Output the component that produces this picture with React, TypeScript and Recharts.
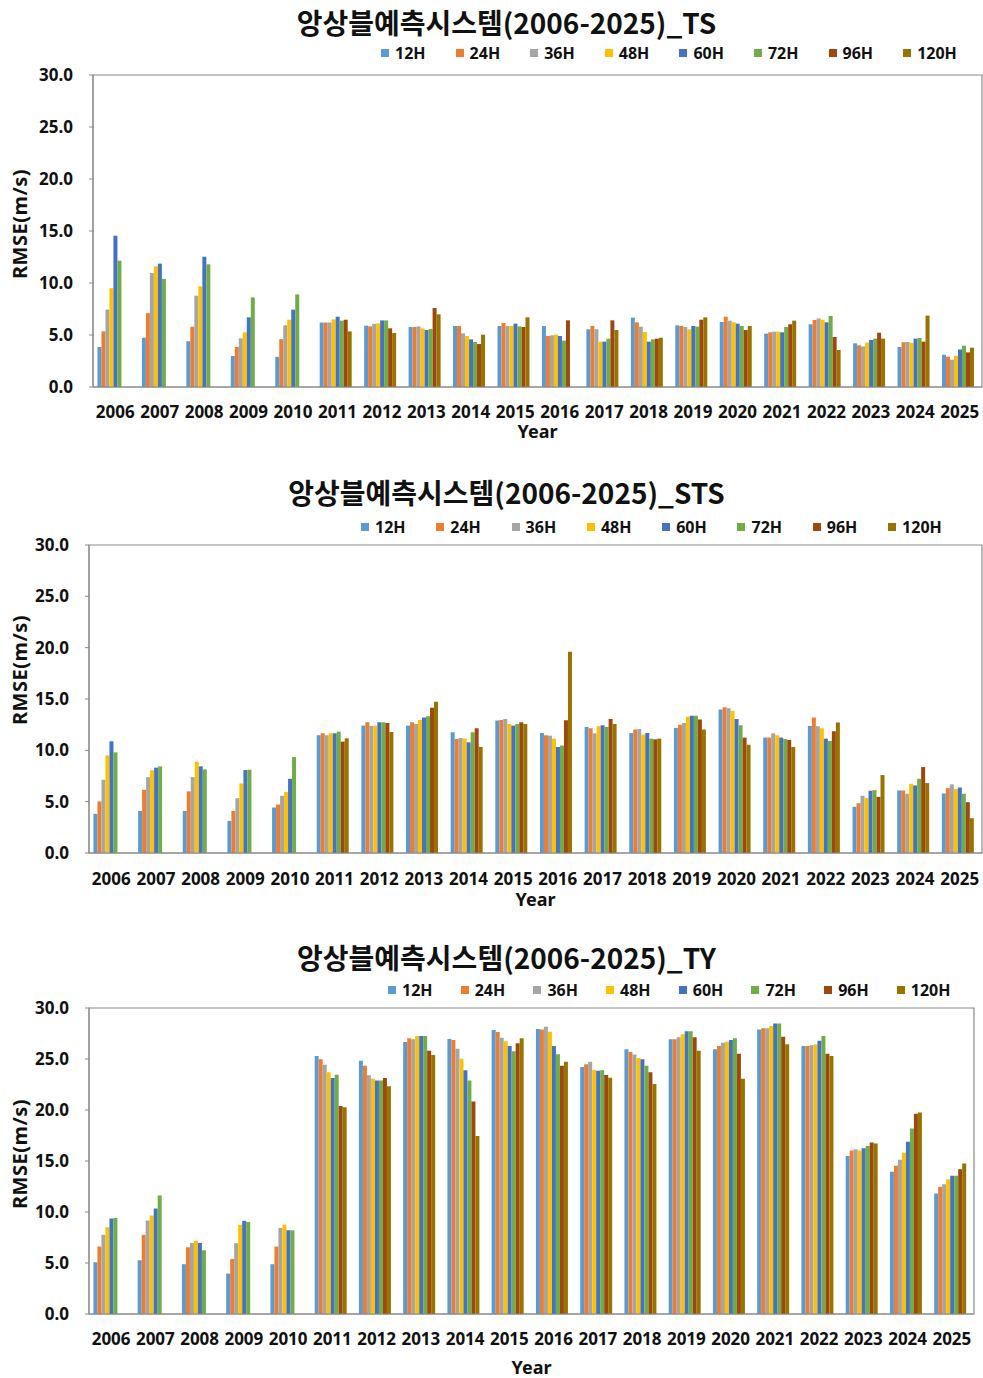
import { BarChart, Bar, XAxis, YAxis, Legend, ReferenceArea } from "recharts";

const N = null;

const years = [
  "2006", "2007", "2008", "2009", "2010", "2011", "2012", "2013", "2014", "2015",
  "2016", "2017", "2018", "2019", "2020", "2021", "2022", "2023", "2024", "2025",
];
const horizons = ["12H", "24H", "36H", "48H", "60H", "72H", "96H", "120H"];
const colors = ["#5B9BD5", "#ED7D31", "#A5A5A5", "#FFC000", "#4472C4", "#70AD47", "#9E480E", "#997300"];
const yTicks = [0, 5, 10, 15, 20, 25, 30];

// TS
const ts12 = [3.85, 4.74, 4.4, 2.98, 2.9, 6.2, 5.9, 5.77, 5.87, 5.87, 5.87, 5.55, 6.67, 5.93, 6.25, 5.13, 6.03, 4.2, 3.85, 3.1];
const ts24 = [5.35, 7.1, 5.8, 3.85, 4.6, 6.2, 5.83, 5.77, 5.87, 6.15, 4.9, 5.87, 6.22, 5.87, 6.76, 5.26, 6.44, 4.0, 4.3, 2.92];
const ts36 = [7.44, 10.96, 8.78, 4.68, 5.93, 6.2, 6.06, 5.83, 5.16, 5.87, 4.97, 5.55, 5.8, 5.77, 6.38, 5.32, 6.6, 3.9, 4.33, 2.63];
const ts48 = [9.5, 11.6, 9.68, 5.26, 6.47, 6.5, 6.12, 5.64, 4.9, 5.87, 5.03, 4.36, 5.29, 5.55, 6.22, 5.32, 6.47, 4.26, 4.26, 3.0];
const ts60 = [14.55, 11.86, 12.53, 6.7, 7.44, 6.76, 6.4, 5.48, 4.58, 6.09, 4.9, 4.36, 4.36, 5.87, 6.09, 5.26, 6.22, 4.52, 4.65, 3.61];
const ts72 = [12.15, 10.4, 11.8, 8.62, 8.9, 6.38, 6.4, 5.58, 4.33, 5.83, 4.46, 4.65, 4.58, 5.8, 5.87, 5.77, 6.83, 4.65, 4.71, 3.97];
const ts96 = [N, N, N, N, N, 6.47, 5.64, 7.6, 4.13, 5.77, 6.41, 6.41, 4.65, 6.47, 5.48, 6.03, 4.81, 5.22, 4.36, 3.33];
const ts120 = [N, N, N, N, N, 5.35, 5.19, 6.99, 5.03, 6.7, N, 5.48, 4.74, 6.7, 5.87, 6.38, 3.56, 4.65, 6.86, 3.78];

// STS
const sts12 = [3.81, 4.1, 4.1, 3.13, 4.43, 11.47, 12.41, 12.41, 11.76, 12.9, 11.69, 12.28, 11.69, 12.18, 13.97, 11.24, 12.38, 4.5, 6.09, 5.8];
const sts24 = [5.02, 6.16, 6.0, 4.1, 4.72, 11.66, 12.74, 12.74, 11.1, 12.96, 11.47, 12.15, 12.02, 12.48, 14.2, 11.24, 13.19, 4.85, 6.09, 6.32];
const sts36 = [7.13, 7.39, 7.39, 5.34, 5.57, 11.47, 12.38, 12.57, 11.2, 13.06, 11.43, 11.66, 12.08, 12.67, 14.1, 11.66, 12.35, 5.57, 5.77, 6.68];
const sts48 = [9.51, 8.05, 8.89, 6.78, 5.93, 11.66, 12.41, 12.96, 11.14, 12.57, 11.14, 12.35, 11.53, 13.26, 13.84, 11.47, 12.15, 5.37, 6.74, 6.22];
const sts60 = [10.88, 8.31, 8.44, 8.08, 7.23, 11.66, 12.74, 13.19, 10.78, 12.41, 10.33, 12.44, 11.69, 13.36, 13.06, 11.24, 11.14, 6.06, 6.58, 6.38];
const sts72 = [9.8, 8.44, 8.14, 8.11, 9.35, 11.82, 12.74, 13.32, 11.76, 12.57, 10.46, 12.28, 11.14, 13.36, 12.44, 11.1, 10.91, 6.12, 7.23, 5.77];
const sts96 = [N, N, N, N, N, 10.85, 12.67, 14.14, 12.15, 12.74, 12.93, 13.06, 11.07, 13.0, 11.24, 11.01, 11.86, 5.47, 8.37, 4.95];
const sts120 = [N, N, N, N, N, 11.17, 11.79, 14.72, 10.33, 12.57, 19.6, 12.57, 11.14, 12.02, 10.55, 10.33, 12.7, 7.59, 6.81, 3.39];

// TY
const ty12 = [5.07, 5.27, 4.88, 3.96, 4.88, 25.3, 24.84, 26.67, 26.96, 27.85, 27.95, 24.21, 25.95, 26.93, 25.95, 27.88, 26.28, 15.48, 13.94, 11.81];
const ty24 = [6.61, 7.76, 6.54, 5.4, 6.61, 24.97, 24.35, 27.03, 26.87, 27.65, 27.88, 24.48, 25.69, 26.93, 26.28, 28.01, 26.28, 16.03, 14.53, 12.47];
const ty36 = [7.76, 9.16, 6.97, 6.94, 8.44, 24.44, 23.4, 26.93, 26.01, 27.09, 28.17, 24.74, 25.43, 27.13, 26.6, 28.01, 26.34, 16.16, 15.12, 12.73];
const ty48 = [8.51, 9.65, 7.17, 8.74, 8.74, 23.69, 23.07, 27.26, 25.03, 26.73, 27.68, 23.92, 25.1, 27.42, 26.7, 28.24, 26.41, 16.03, 15.8, 13.22];
const ty60 = [9.36, 10.34, 6.97, 9.13, 8.21, 23.13, 22.9, 27.26, 23.89, 26.28, 26.28, 23.85, 24.97, 27.72, 26.87, 28.47, 26.8, 16.26, 16.89, 13.55];
const ty72 = [9.42, 11.62, 6.25, 9.03, 8.21, 23.46, 22.9, 27.26, 22.9, 25.75, 25.46, 23.89, 24.35, 27.72, 27.03, 28.47, 27.26, 16.46, 18.19, 13.55];
const ty96 = [N, N, N, N, N, 20.39, 23.13, 25.82, 20.84, 26.54, 24.35, 23.43, 23.69, 27.13, 25.52, 27.19, 25.52, 16.82, 19.63, 14.2];
const ty120 = [N, N, N, N, N, 20.26, 22.32, 25.39, 17.44, 27.03, 24.74, 23.17, 22.55, 25.82, 23.07, 26.44, 25.3, 16.72, 19.76, 14.76];

function buildRows(series: (number | null)[][]) {
  return years.map((year, i) => {
    const row: any = { year };
    horizons.forEach((h, j) => {
      row[h] = series[j][i];
    });
    return row;
  });
}

const fontTick = { fontFamily: "'Noto Sans', sans-serif", fontWeight: 700, fontSize: 17, fill: "#111" };
const axisGray = "#8a8a8a";

interface PanelProps {
  title: string;
  rows: any[];
  top: number;
  height: number;
  plotTop: number;
  plotBottom: number;
  plotLeft: number;
  plotRight: number;
  titleY: number;
  legendY: number;
  legendX: number;
  legendPitch: number;
  yLabelY: number;
  yearY: number;
  xTickMargin: number;
}

function Panel(p: PanelProps) {
  const W = 983;
  const renderLegend = () => (
    <div style={{ display: "flex", fontFamily: "'Noto Sans', sans-serif", fontWeight: 700, fontSize: 16, lineHeight: "20px", color: "#111" }}>
      {horizons.map((h, i) => (
        <div key={h} style={{ width: p.legendPitch, display: "flex", alignItems: "center" }}>
          <span style={{ display: "inline-block", width: 8, height: 8, background: colors[i], marginRight: 6 }} />
          {h}
        </div>
      ))}
    </div>
  );

  return (
    <div style={{ position: "absolute", left: 0, top: p.top, width: W, height: p.height }}>
      <div
        style={{
          position: "absolute",
          left: 0,
          width: W + 30,
          top: p.titleY - 16,
          height: 32,
          textAlign: "center",
          fontFamily: "'Noto Sans CJK KR', sans-serif",
          fontWeight: 700,
          fontSize: 28,
          lineHeight: "32px",
          color: "#111",
        }}
      >
        {p.title}
      </div>
      <BarChart
        width={W}
        height={p.height}
        data={p.rows}
        margin={{ top: p.plotTop, right: W - p.plotRight, left: 0, bottom: 0 }}
        barCategoryGap="10%"
        barGap={0}
      >
        <XAxis
          dataKey="year"
          height={p.height - p.plotBottom}
          tickLine={false}
          tickSize={0}
          tickMargin={p.xTickMargin}
          axisLine={{ stroke: axisGray }}
          tick={fontTick}
          interval={0}
        />
        <YAxis
          width={p.plotLeft}
          domain={[0, 30]}
          ticks={yTicks}
          tickFormatter={(v: number) => v.toFixed(1)}
          tickSize={4}
          tickMargin={16}
          axisLine={{ stroke: axisGray }}
          tickLine={{ stroke: axisGray }}
          tick={fontTick}
        />
        <ReferenceArea y1={0} y2={30} fill="none" stroke={axisGray} strokeWidth={1.2} ifOverflow="visible" />
        <Legend
          layout="horizontal"
          verticalAlign="middle"
          align="center"
          content={renderLegend}
          wrapperStyle={{ top: p.legendY - 10, left: p.legendX, width: p.legendPitch * 8, height: 20 }}
        />
        {horizons.map((h, i) => (
          <Bar key={h} dataKey={h} fill={colors[i]} isAnimationActive={false} />
        ))}
      </BarChart>
      <div
        style={{
          position: "absolute",
          left: 20 - 100,
          top: p.yLabelY - 14,
          width: 200,
          height: 28,
          lineHeight: "28px",
          textAlign: "center",
          transform: "rotate(-90deg)",
          fontFamily: "'Noto Sans', sans-serif",
          fontWeight: 700,
          fontSize: 20,
          letterSpacing: 0.5,
          color: "#111",
        }}
      >
        RMSE(m/s)
      </div>
      <div
        style={{
          position: "absolute",
          left: p.plotLeft,
          width: p.plotRight - p.plotLeft,
          top: p.yearY - 12,
          height: 24,
          lineHeight: "24px",
          textAlign: "center",
          fontFamily: "'Noto Sans', sans-serif",
          fontWeight: 700,
          fontSize: 18,
          color: "#111",
        }}
      >
        Year
      </div>
    </div>
  );
}

const tsRows = buildRows([ts12, ts24, ts36, ts48, ts60, ts72, ts96, ts120]);
const stsRows = buildRows([sts12, sts24, sts36, sts48, sts60, sts72, sts96, sts120]);
const tyRows = buildRows([ty12, ty24, ty36, ty48, ty60, ty72, ty96, ty120]);

export default function App() {
  return (
    <div style={{ position: "absolute", left: 0, top: 0, width: 983, height: 1378, background: "#fff", overflow: "hidden" }}>
      <Panel
        title="앙상블예측시스템(2006-2025)_TS"
        rows={tsRows}
        top={0}
        height={460}
        plotTop={75}
        plotBottom={387}
        plotLeft={93}
        plotRight={982}
        titleY={22}
        legendY={53}
        legendX={381}
        legendPitch={74.6}
        yLabelY={224}
        yearY={431}
        xTickMargin={19}
      />
      <Panel
        title="앙상블예측시스템(2006-2025)_STS"
        rows={stsRows}
        top={460}
        height={460}
        plotTop={85}
        plotBottom={393}
        plotLeft={89}
        plotRight={982}
        titleY={32}
        legendY={67}
        legendX={361}
        legendPitch={75.3}
        yLabelY={210}
        yearY={439}
        xTickMargin={20}
      />
      <Panel
        title="앙상블예측시스템(2006-2025)_TY"
        rows={tyRows}
        top={920}
        height={458}
        plotTop={88}
        plotBottom={394}
        plotLeft={89}
        plotRight={974}
        titleY={37}
        legendY={70}
        legendX={388}
        legendPitch={72.7}
        yLabelY={234}
        yearY={447}
        xTickMargin={19}
      />
    </div>
  );
}
